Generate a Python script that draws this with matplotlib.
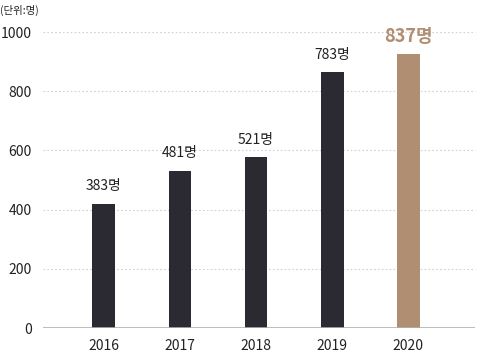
import matplotlib
matplotlib.use('Agg')
import matplotlib.pyplot as plt
import numpy as np

plt.rcParams['font.family'] = ['Noto Sans CJK KR', 'DejaVu Sans']

years = ['2016', '2017', '2018', '2019', '2020']
bar_heights = [419, 530, 577, 864, 925]   # bar heights as drawn against the axis
labels = ['383명', '481명', '521명', '783명', '837명']
yticks = [0, 200, 400, 600, 800, 1000]

dark = '#2b2a33'
tan = '#b08e72'
colors = [dark, dark, dark, dark, tan]

fig = plt.figure(figsize=(4.78, 3.54), dpi=100)
ax = fig.add_axes([0.09, 0.0734, 0.904, 0.8362])

x = np.arange(len(years))
ax.bar(x, bar_heights, width=0.3, color=colors, zorder=3)

for i, (h, lab) in enumerate(zip(bar_heights, labels)):
    if i == len(years) - 1:
        ax.text(x[i], h + 28, lab, ha='center', va='bottom', fontsize=13,
                fontweight='bold', color=tan, clip_on=False)
    else:
        ax.text(x[i], h + 36, lab, ha='center', va='bottom', fontsize=10,
                color='#222222')

ax.set_xlim(-0.8, 4.88)
ax.set_ylim(0, 1000)
ax.set_yticks(yticks)
ax.set_xticks(x)
ax.set_xticklabels(years)
ax.tick_params(axis='both', length=0, labelsize=10, colors='#222222')
ax.tick_params(axis='x', pad=8)
ax.tick_params(axis='y', pad=8)

for y in yticks[1:]:
    ax.axhline(y, color='#d0d0d0', lw=0.8, ls=(0, (1.5, 2)), zorder=1, clip_on=False)
ax.axhline(0, color='#b0b0b0', lw=1.2, zorder=4)

for s in ax.spines.values():
    s.set_visible(False)

fig.text(0.0, 0.985, '(단위:명)', fontsize=7.5, color='#222222', va='top', ha='left')

fig.savefig('out.png', dpi=100)
